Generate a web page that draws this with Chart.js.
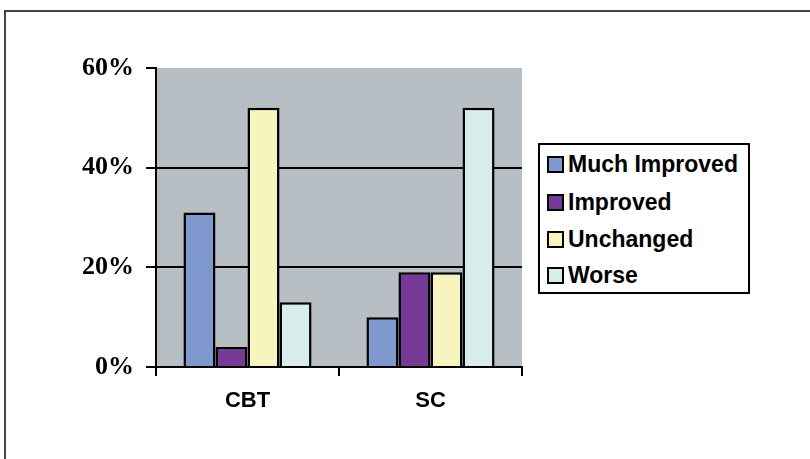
<!DOCTYPE html>
<html>
<head>
<meta charset="utf-8">
<script src="https://cdn.jsdelivr.net/npm/chart.js@4"></script>
<style>
  html, body { margin: 0; padding: 0; background: #fff; }
  #wrap { position: relative; width: 810px; height: 459px; overflow: hidden; }
  #frame { position: absolute; left: 4px; top: 10px; width: 900px; height: 600px;
           border-top: 2px solid #444; border-left: 2px solid #444; }
  #legend { position: absolute; left: 538px; top: 143px; width: 208px; height: 147px;
            border: 2px solid #000; background: #fff; box-sizing: content-box;
            font: bold 23px "Liberation Sans", Arial, sans-serif; color: #000; }
  .item { position: absolute; left: 7px; height: 26px; line-height: 26px; white-space: nowrap; }
  .sw { display: inline-block; width: 13px; height: 13px; border: 2px solid #000;
        vertical-align: -1px; margin-right: 4px; }
</style>
</head>
<body>
<div id="wrap">
  <div id="frame"></div>
  <canvas id="Chart" width="810" height="459"></canvas>
  <div id="legend"></div>
</div>
<script>
const categories = ['CBT', 'SC'];
const seriesNames = ['Much Improved', 'Improved', 'Unchanged', 'Worse'];
const muchImproved = [31, 10];
const improved = [4, 19];
const unchanged = [52, 19];
const worse = [13, 52];
const yTicks = [0, 20, 40, 60];
const colors = ['#7f98ce', '#763996', '#f8f4bd', '#d8ede9'];

const values = [muchImproved, improved, unchanged, worse];

const plotBg = {
    id: 'plotBg',
    beforeDraw(chart) {
        const a = chart.chartArea;
        const c = chart.ctx;
        c.save();
        c.fillStyle = '#b7bfc5';
        c.fillRect(a.left, a.top, a.right - a.left, a.bottom - a.top);
        c.restore();
    }
};

const ctx = document.getElementById('Chart').getContext('2d');
const chart = new Chart(ctx, {
    type: 'bar',
    data: {
        labels: categories,
        datasets: seriesNames.map((name, i) => ({
            label: name,
            data: values[i],
            backgroundColor: colors[i],
            borderColor: '#000',
            borderWidth: 2.5,
            categoryPercentage: 0.7,
            barPercentage: 1.0
        }))
    },
    options: {
        responsive: false,
        animation: false,
        layout: { padding: { left: 0, right: 288, top: 68, bottom: 0 } },
        plugins: { legend: { display: false }, tooltip: { enabled: false } },
        scales: {
            x: {
                afterFit(s) { s.height = 92; },
                grid: {
                    offset: true,
                    drawOnChartArea: false,
                    color: '#000',
                    tickColor: '#000',
                    tickLength: 9,
                    lineWidth: 2
                },
                border: { color: '#000', width: 2 },
                ticks: {
                    color: '#000',
                    padding: 12,
                    font: { family: '"Liberation Sans", Arial, sans-serif', size: 22, weight: 'bold' }
                }
            },
            y: {
                min: 0,
                max: 60,
                afterFit(s) { s.width = 156; },
                afterBuildTicks(s) { s.ticks = yTicks.map(v => ({ value: v })); },
                grid: {
                    color: c => (c.tick && (c.tick.value === 20 || c.tick.value === 40)) ? '#000' : 'rgba(0,0,0,0)',
                    tickColor: '#000',
                    tickLength: 10,
                    lineWidth: 2
                },
                border: { color: '#000', width: 2 },
                ticks: {
                    color: '#000',
                    padding: 12,
                    callback: v => v + '%',
                    font: { family: '"Liberation Serif", "Times New Roman", serif', size: 26, weight: 'bold' }
                }
            }
        }
    },
    plugins: [plotBg]
});

// legend built from the series
const legend = document.getElementById('legend');
const rowTops = [6, 44, 81, 117];
seriesNames.forEach((name, i) => {
    const d = document.createElement('div');
    d.className = 'item';
    d.style.top = rowTops[i] + 'px';
    d.innerHTML = '<span class="sw" style="background:' + colors[i] + '"></span>' + name;
    legend.appendChild(d);
});
</script>
</body>
</html>
